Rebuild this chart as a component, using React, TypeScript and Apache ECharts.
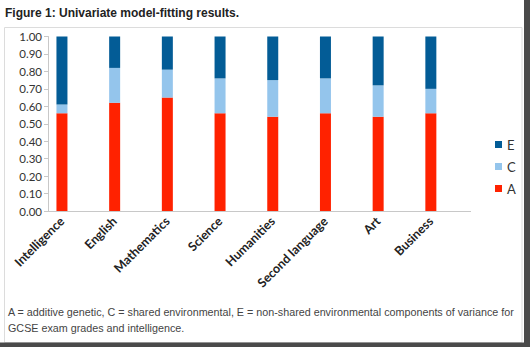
import React, { useEffect, useRef } from "react";
import * as echarts from "echarts";

const categories = ["Intelligence", "English", "Mathematics", "Science", "Humanities", "Second language", "Art", "Business"];
const valuesA = [0.56, 0.62, 0.65, 0.56, 0.54, 0.56, 0.54, 0.56];
const valuesC = [0.05, 0.20, 0.16, 0.20, 0.21, 0.20, 0.18, 0.14];
const valuesE = [0.39, 0.18, 0.19, 0.24, 0.25, 0.24, 0.28, 0.30];
const legendItems = ["E", "C", "A"];
const titleText = "Figure 1: Univariate model-fitting results.";
const captionLines = [
  "A = additive genetic, C = shared environmental, E = non-shared environmental components of variance for",
  "GCSE exam grades and intelligence.",
];

export default function App() {
  const ref = useRef<HTMLDivElement>(null);
  useEffect(() => {
    if (!ref.current) return;
    const chart = echarts.init(ref.current, null, { renderer: "svg" });
    const barBase = { type: "bar", stack: "total", barWidth: 11 };
    chart.setOption({
      animation: false,
      backgroundColor: "#ffffff",
      grid: { left: 35.6, right: 72.8, top: 36.5, bottom: 136 },
      legend: {
        data: legendItems,
        orient: "vertical",
        left: 490,
        top: 133,
        itemWidth: 7,
        itemHeight: 7,
        itemGap: 9,
        icon: "rect",
        textStyle: { fontFamily: "Lato", fontSize: 13, color: "#333" },
      },
      xAxis: {
        type: "category",
        data: categories,
        axisLine: { show: false },
        axisTick: { show: false },
        axisLabel: {
          rotate: 45,
          interval: 0,
          margin: 8,
          fontFamily: "Lato",
          fontWeight: "bold",
          fontSize: 12.5,
          color: "#222",
        },
      },
      yAxis: {
        type: "value",
        min: 0,
        max: 1,
        interval: 0.1,
        offset: -12.4,
        splitLine: { show: false },
        axisLine: { show: true, lineStyle: { color: "#c8c8c8" } },
        axisTick: { show: true, length: 4, lineStyle: { color: "#c8c8c8" } },
        axisLabel: {
          formatter: (v: number) => v.toFixed(2),
          fontFamily: "Lato",
          fontSize: 11.5,
          color: "#333",
          margin: 6,
        },
      },
      series: [
        { ...barBase, name: "A", data: valuesA, itemStyle: { color: "#ff2200" } },
        { ...barBase, name: "C", data: valuesC, itemStyle: { color: "#94c5ec" } },
        { ...barBase, name: "E", data: valuesE, itemStyle: { color: "#035c96" } },
      ],
      graphic: [
        {
          type: "rect",
          shape: { x: 4.5, y: 27.5, width: 517.5, height: 315 },
          style: { fill: "none", stroke: "#dcdcdc", lineWidth: 1 },
          silent: true,
          z: -1,
        },
        {
          type: "rect",
          shape: { x: 524, y: 0, width: 6, height: 347 },
          style: { fill: "#4a4a4a" },
          silent: true,
        },
        {
          type: "rect",
          shape: { x: 0, y: 342.5, width: 530, height: 4.5 },
          style: { fill: "#4a4a4a" },
          silent: true,
        },
        {
          type: "line",
          shape: { x1: 48, y1: 211.5, x2: 471, y2: 211.5 },
          style: { stroke: "#c8c8c8", lineWidth: 1 },
          silent: true,
        },
        {
          type: "text",
          x: 5,
          y: 7,
          style: {
            text: titleText,
            fontFamily: "Arial, Liberation Sans",
            fontWeight: "bold",
            fontSize: 12,
            fill: "#222",
          },
        },
        {
          type: "text",
          x: 8,
          y: 304,
          style: {
            text: captionLines.join("\n"),
            fontFamily: "Arial, Liberation Sans",
            fontSize: 10.75,
            lineHeight: 16,
            fill: "#444",
          },
        },
      ],
    });
    return () => chart.dispose();
  }, []);
  return (
    <div
      ref={ref}
      style={{ position: "fixed", left: 0, top: 0, width: 530, height: 347 }}
    />
  );
}
